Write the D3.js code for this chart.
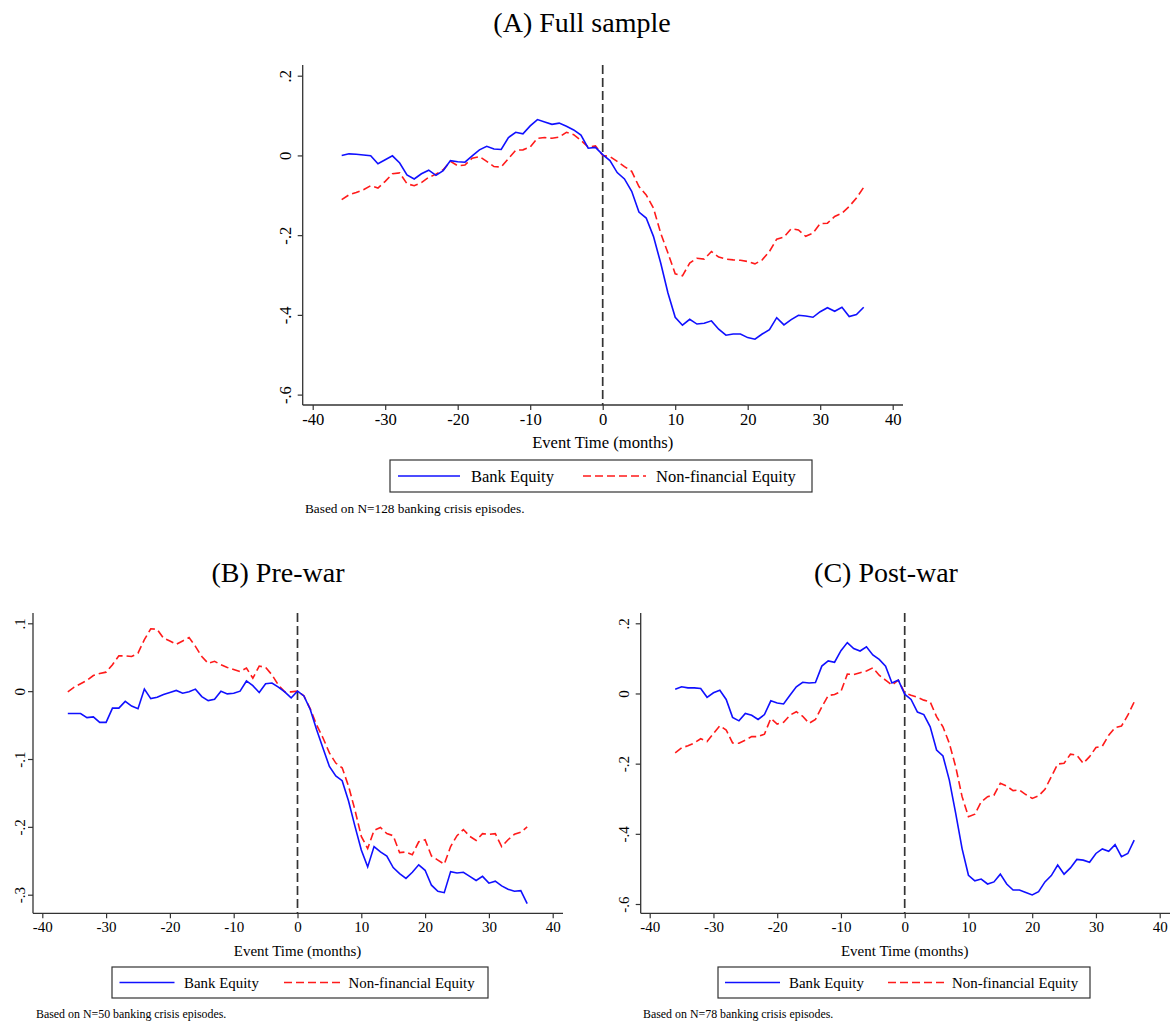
<!DOCTYPE html>
<html>
<head>
<meta charset="utf-8">
<script src="https://cdn.jsdelivr.net/npm/d3@7"></script>
<style>
  html, body { margin: 0; padding: 0; background: #fff; }
  svg { display: block; }
  text { font-family: "Liberation Serif", "Times New Roman", serif; fill: #000; }
</style>
</head>
<body>
<svg id="chart" width="1176" height="1022"></svg>
<script>
// ---------- data ----------
const months = [-36,-35,-34,-33,-32,-31,-30,-29,-28,-27,-26,-25,-24,-23,-22,-21,-20,-19,-18,-17,-16,-15,-14,-13,-12,-11,-10,-9,-8,-7,-6,-5,-4,-3,-2,-1,
  0,1,2,3,4,5,6,7,8,9,10,11,12,13,14,15,16,17,18,19,20,21,22,23,24,25,26,27,28,29,30,31,32,33,34,35,36];

const bankA = [0.000,0.004,0.003,0.001,-0.001,-0.021,-0.011,-0.001,-0.019,-0.049,-0.059,-0.046,-0.037,-0.050,-0.038,-0.013,-0.016,-0.017,-0.001,0.014,0.023,0.016,0.015,0.045,0.058,0.054,0.074,0.090,0.084,0.078,0.081,0.073,0.064,0.051,0.018,0.020,
  0.002,-0.013,-0.043,-0.059,-0.090,-0.142,-0.157,-0.203,-0.270,-0.345,-0.406,-0.426,-0.411,-0.423,-0.421,-0.415,-0.436,-0.451,-0.448,-0.448,-0.457,-0.461,-0.448,-0.437,-0.407,-0.425,-0.412,-0.401,-0.403,-0.406,-0.392,-0.382,-0.391,-0.381,-0.404,-0.399,-0.381];
const nonfinA = [-0.111,-0.099,-0.093,-0.086,-0.076,-0.082,-0.065,-0.046,-0.044,-0.071,-0.076,-0.068,-0.055,-0.047,-0.036,-0.015,-0.026,-0.024,-0.007,-0.003,-0.015,-0.028,-0.029,-0.008,0.013,0.014,0.021,0.043,0.045,0.043,0.046,0.058,0.052,0.038,0.021,0.024,
  0.000,-0.003,-0.015,-0.028,-0.040,-0.078,-0.099,-0.132,-0.195,-0.245,-0.297,-0.302,-0.270,-0.258,-0.260,-0.241,-0.255,-0.260,-0.262,-0.263,-0.266,-0.272,-0.262,-0.241,-0.210,-0.205,-0.184,-0.187,-0.203,-0.195,-0.171,-0.170,-0.153,-0.145,-0.128,-0.107,-0.080];

const bankB = [-0.033,-0.033,-0.033,-0.039,-0.038,-0.046,-0.046,-0.025,-0.025,-0.015,-0.022,-0.026,0.003,-0.011,-0.009,-0.005,-0.002,0.001,-0.003,-0.001,0.003,-0.008,-0.014,-0.012,0.000,-0.004,-0.003,0.000,0.015,0.008,-0.002,0.011,0.012,0.006,-0.001,-0.010,
  0.000,-0.007,-0.027,-0.057,-0.084,-0.111,-0.125,-0.132,-0.162,-0.199,-0.234,-0.259,-0.229,-0.237,-0.243,-0.260,-0.269,-0.276,-0.267,-0.256,-0.264,-0.286,-0.295,-0.297,-0.266,-0.268,-0.267,-0.273,-0.279,-0.273,-0.283,-0.280,-0.287,-0.292,-0.295,-0.294,-0.313];
const nonfinB = [-0.001,0.006,0.011,0.016,0.023,0.026,0.028,0.039,0.052,0.052,0.051,0.056,0.076,0.092,0.091,0.078,0.074,0.069,0.074,0.079,0.066,0.051,0.041,0.044,0.039,0.035,0.032,0.029,0.034,0.019,0.037,0.035,0.024,0.009,-0.001,-0.001,
  0.000,-0.007,-0.026,-0.050,-0.069,-0.091,-0.106,-0.113,-0.140,-0.175,-0.214,-0.232,-0.205,-0.201,-0.210,-0.213,-0.238,-0.237,-0.241,-0.222,-0.219,-0.243,-0.249,-0.255,-0.229,-0.213,-0.204,-0.214,-0.220,-0.210,-0.211,-0.210,-0.229,-0.219,-0.211,-0.208,-0.200];

const bankC = [0.012,0.019,0.016,0.016,0.014,-0.011,0.002,0.009,-0.017,-0.068,-0.078,-0.057,-0.062,-0.074,-0.060,-0.021,-0.027,-0.030,-0.005,0.019,0.032,0.030,0.031,0.078,0.093,0.089,0.122,0.145,0.128,0.121,0.133,0.110,0.097,0.078,0.030,0.038,
  -0.002,-0.017,-0.053,-0.060,-0.095,-0.161,-0.178,-0.247,-0.342,-0.442,-0.518,-0.534,-0.529,-0.543,-0.537,-0.515,-0.543,-0.560,-0.560,-0.567,-0.574,-0.565,-0.537,-0.519,-0.489,-0.515,-0.497,-0.473,-0.475,-0.481,-0.456,-0.443,-0.450,-0.431,-0.465,-0.456,-0.418];
const nonfinC = [-0.169,-0.155,-0.149,-0.141,-0.129,-0.137,-0.114,-0.092,-0.104,-0.141,-0.142,-0.133,-0.123,-0.123,-0.116,-0.071,-0.087,-0.082,-0.062,-0.052,-0.065,-0.085,-0.074,-0.038,-0.006,-0.003,0.006,0.055,0.054,0.059,0.064,0.073,0.052,0.038,0.024,0.038,
  0.002,-0.005,-0.011,-0.019,-0.024,-0.066,-0.095,-0.142,-0.209,-0.294,-0.351,-0.344,-0.309,-0.294,-0.290,-0.256,-0.264,-0.277,-0.275,-0.288,-0.299,-0.292,-0.273,-0.237,-0.201,-0.199,-0.173,-0.176,-0.199,-0.180,-0.154,-0.150,-0.119,-0.097,-0.093,-0.062,-0.024];

const xTicks = [-40,-30,-20,-10,0,10,20,30,40];
const yTicksA = [0.2,0,-0.2,-0.4,-0.6];
const yTickLabelsA = [".2","0","-.2","-.4","-.6"];
const yTicksB = [0.1,0,-0.1,-0.2,-0.3];
const yTickLabelsB = [".1","0","-.1","-.2","-.3"];
const yTicksC = [0.2,0,-0.2,-0.4,-0.6];
const yTickLabelsC = [".2","0","-.2","-.4","-.6"];

const titles = ["(A) Full sample", "(B) Pre-war", "(C) Post-war"];
const seriesNames = ["Bank Equity", "Non-financial Equity"];
const notes = ["Based on N=128 banking crisis episodes.", "Based on N=50 banking crisis episodes.", "Based on N=78 banking crisis episodes."];
const xLabel = "Event Time (months)";

// ---------- drawing ----------
const svg = d3.select("#chart");
const BLUE = "#1010ff", RED = "#ff1a1a", AXIS = "#333";

function panel(o) {
  const g = svg.append("g");
  const x = d3.scaleLinear().domain([-40, 40]).range([o.x0, o.x1]);
  const y = d3.scaleLinear().domain(o.yDom).range(o.yRange);

  // title
  g.append("text").attr("x", o.titleX).attr("y", o.titleY).attr("text-anchor", "middle")
    .style("font-size", "28px").attr("fill", "#111").text(o.title);

  // y axis
  const yAx = g.append("g").attr("transform", `translate(${o.axX},0)`)
    .call(d3.axisLeft(y).tickValues(o.yTicks).tickSize(5).tickPadding(0)
      .tickFormat((d, i) => o.yLabels[i]));
  yAx.select(".domain").attr("d", `M0,${o.axTop}V${o.axY}`);
  yAx.selectAll("line").attr("stroke", AXIS).attr("stroke-width", 1.2);
  yAx.select(".domain").attr("stroke", AXIS).attr("stroke-width", 1.3);
  yAx.selectAll("text")
    .attr("x", null).attr("dy", null)
    .attr("transform", d => `translate(${-o.yLabOff},0) rotate(-90)`)
    .attr("text-anchor", "middle").attr("dy", "0.35em")
    .style("font-size", o.fs + "px").style("font-family", "Liberation Serif").attr("fill", "#000");

  // x axis
  const xAx = g.append("g").attr("transform", `translate(0,${o.axY})`)
    .call(d3.axisBottom(x).tickValues(xTicks).tickSize(5).tickPadding(3).tickFormat(d => String(d)));
  xAx.select(".domain").attr("d", `M${o.axX},0H${o.axRight}`).attr("stroke", AXIS).attr("stroke-width", 1.3);
  xAx.selectAll("line").attr("stroke", AXIS).attr("stroke-width", 1.2);
  xAx.selectAll("text").style("font-size", o.fs + "px").style("font-family", "Liberation Serif").attr("fill", "#000");

  g.append("text").attr("x", x(0)).attr("y", o.xLabY).attr("text-anchor", "middle")
    .style("font-size", o.fs + "px").text(xLabel);

  // vertical dashed line at 0
  g.append("line").attr("x1", x(0)).attr("x2", x(0)).attr("y1", o.axTop).attr("y2", o.axY)
    .attr("stroke", "#333").attr("stroke-width", 1.7).attr("stroke-dasharray", "9,4");

  const line = d3.line().x((d, i) => x(months[i])).y(d => y(d));
  g.append("path").datum(o.nonfin).attr("d", line).attr("fill", "none")
    .attr("stroke", RED).attr("stroke-width", 1.6).attr("stroke-dasharray", "8,4");
  g.append("path").datum(o.bank).attr("d", line).attr("fill", "none")
    .attr("stroke", BLUE).attr("stroke-width", 1.6);

  // legend
  const L = o.leg;
  g.append("rect").attr("x", L.x).attr("y", L.y).attr("width", L.w).attr("height", L.h)
    .attr("fill", "#fff").attr("stroke", "#333").attr("stroke-width", 1.2);
  const cy = L.y + L.h / 2;
  g.append("line").attr("x1", L.b0).attr("x2", L.b1).attr("y1", cy).attr("y2", cy)
    .attr("stroke", BLUE).attr("stroke-width", 1.6);
  g.append("text").attr("x", L.bt).attr("y", cy).attr("dy", "0.35em")
    .style("font-size", L.fs + "px").text(seriesNames[0]);
  g.append("line").attr("x1", L.r0).attr("x2", L.r1).attr("y1", cy).attr("y2", cy)
    .attr("stroke", RED).attr("stroke-width", 1.6).attr("stroke-dasharray", "8,4");
  g.append("text").attr("x", L.rt).attr("y", cy).attr("dy", "0.35em")
    .style("font-size", L.fs + "px").text(seriesNames[1]);

  g.append("text").attr("x", o.noteX).attr("y", o.noteY).attr("dy", "0.35em")
    .style("font-size", o.noteFs + "px").text(o.note);
}

panel({
  title: titles[0], titleX: 582, titleY: 32,
  x0: 312.7, x1: 892.7, axX: 302.7, axRight: 903, axTop: 65, axY: 405,
  yDom: [-0.6, 0.2], yRange: [394.6, 75.7], yTicks: yTicksA, yLabels: yTickLabelsA,
  yLabOff: 18, fs: 16.6, xLabY: 448,
  bank: bankA, nonfin: nonfinA,
  leg: { x: 390, y: 460, w: 422, h: 32, b0: 398, b1: 460, bt: 471, r0: 583, r1: 646, rt: 656, fs: 16.5 },
  note: notes[0], noteX: 305, noteY: 508, noteFs: 13.3
});

panel({
  title: titles[1], titleX: 278, titleY: 582,
  x0: 42.3, x1: 552.7, axX: 33, axRight: 563, axTop: 613, axY: 913.3,
  yDom: [-0.3, 0.1], yRange: [894.7, 623.3], yTicks: yTicksB, yLabels: yTickLabelsB,
  yLabOff: 13, fs: 15, xLabY: 956,
  bank: bankB, nonfin: nonfinB,
  leg: { x: 112, y: 967, w: 376, h: 31, b0: 119.5, b1: 174.5, bt: 184, r0: 284, r1: 341, rt: 348.5, fs: 14.9 },
  note: notes[1], noteX: 36, noteY: 1014, noteFs: 11.9
});

panel({
  title: titles[2], titleX: 886, titleY: 582,
  x0: 649.7, x1: 1159.7, axX: 640.7, axRight: 1170, axTop: 613, axY: 913.3,
  yDom: [-0.6, 0.2], yRange: [904, 623.3], yTicks: yTicksC, yLabels: yTickLabelsC,
  yLabOff: 17, fs: 15, xLabY: 956,
  bank: bankC, nonfin: nonfinC,
  leg: { x: 718, y: 967, w: 372, h: 31, b0: 725, b1: 780, bt: 789, r0: 888, r1: 944, rt: 952, fs: 14.9 },
  note: notes[2], noteX: 643, noteY: 1014, noteFs: 11.9
});
</script>
</body>
</html>
